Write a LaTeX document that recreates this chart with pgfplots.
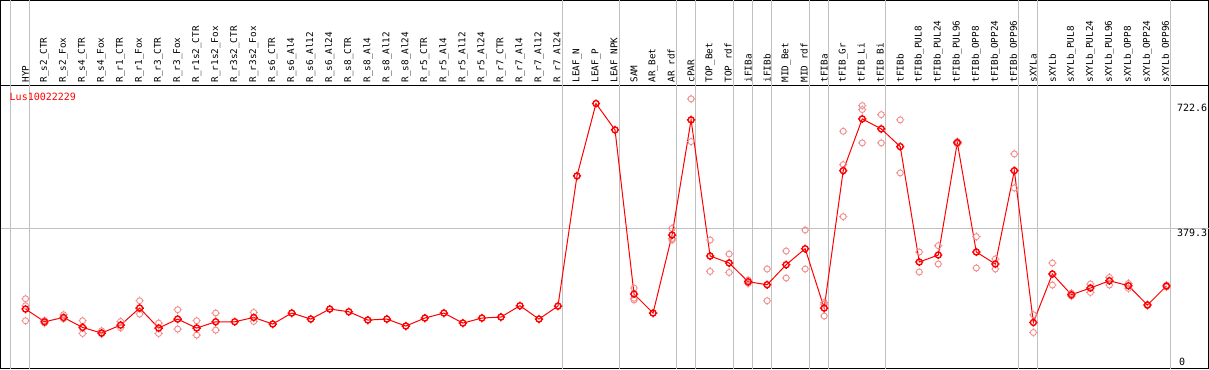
\documentclass[border=0pt]{standalone}
\usepackage{pgfplots}
\pgfplotsset{compat=1.18}
\usepackage{pgfplotstable}
\usepackage{fontspec}
\newfontfamily\lab{DejaVu Sans Mono}
\definecolor{mainred}{RGB}{255,0,0}
\definecolor{repred}{RGB}{240,140,140}
\definecolor{sepgray}{RGB}{192,192,192}
\pgfdeclareplotmark{tc}{%
  \pgfpathcircle{\pgfpointorigin}{\pgfplotmarksize}%
  \pgfpathmoveto{\pgfqpoint{\pgfplotmarksize}{0pt}}\pgfpathlineto{\pgfqpoint{1.4\pgfplotmarksize}{0pt}}%
  \pgfpathmoveto{\pgfqpoint{-\pgfplotmarksize}{0pt}}\pgfpathlineto{\pgfqpoint{-1.4\pgfplotmarksize}{0pt}}%
  \pgfpathmoveto{\pgfqpoint{0pt}{\pgfplotmarksize}}\pgfpathlineto{\pgfqpoint{0pt}{1.4\pgfplotmarksize}}%
  \pgfpathmoveto{\pgfqpoint{0pt}{-\pgfplotmarksize}}\pgfpathlineto{\pgfqpoint{0pt}{-1.4\pgfplotmarksize}}%
  \pgfusepathqstroke}
\pgfplotstableread{
x y
0 158.5
1 123.6
2 135.4
3 108.0
4 92.6
5 114.5
6 161.2
7 106.3
8 131.0
9 106.3
10 123.6
11 123.6
12 135.4
13 117.3
14 147.5
15 131.0
16 158.5
17 151.1
18 128.3
19 131.0
20 111.8
21 133.8
22 147.5
23 120.0
24 133.8
25 136.5
26 167.6
27 131.0
28 166.7
29 523.9
30 722.6
31 650.2
32 199.7
33 147.5
34 361.8
35 677.7
36 304.1
37 284.9
38 233.5
39 225.3
40 280.2
41 324.1
42 161.2
43 538.4
44 680.4
45 653.0
46 604.3
47 287.6
48 306.8
49 615.3
50 315.1
51 282.1
52 538.4
53 121.7
54 254.6
55 197.8
56 216.2
57 236.2
58 222.5
59 169.5
60 221.7
}\maintab
\pgfplotstableread{
x y
0 186.8
0 167.6
0 126.4
1 120.0
1 127.0
2 142.8
2 131.9
3 126.4
3 91.5
4 98.9
4 90.7
5 124.4
5 107.1
6 181.3
6 144.8
7 120.0
7 91.5
8 156.6
8 103.6
9 126.4
9 87.1
10 147.5
10 100.8
12 149.2
12 124.4
32 216.2
32 183.2
32 188.0
34 379.9
34 348.0
34 352.0
35 735.4
35 618.0
36 348.0
36 261.8
37 309.6
37 259.0
38 228.8
38 238.0
39 268.4
39 181.3
40 317.8
40 243.7
41 375.5
41 268.4
42 176.6
42 139.3
42 172.0
43 646.4
43 554.9
43 412.1
44 717.0
44 706.0
44 614.5
45 692.2
45 614.5
46 677.7
46 532.1
47 315.1
47 260.1
48 332.4
48 282.1
49 618.0
49 612.0
50 357.1
50 271.1
51 295.9
51 268.4
52 584.3
52 490.9
53 142.8
53 94.2
54 284.9
54 224.4
55 202.0
55 194.0
56 227.2
56 204.1
57 245.3
57 224.4
58 228.8
58 215.1
59 171.0
59 168.0
60 224.0
60 219.0
}\reptab
\begin{document}
\begin{tikzpicture}
\begin{axis}[
  scale only axis,
  width=1207pt, height=283pt,
  xmin=-1.316, xmax=62.21,
  ymin=-5.5, ymax=771.9,
  axis line style={black, line width=1pt},
  clip=false,
  xtick={0,...,60},
  xticklabel pos=right,
  xticklabels={HYP,R\_s2\_CTR,R\_s2\_Fox,R\_s4\_CTR,R\_s4\_Fox,R\_r1\_CTR,R\_r1\_Fox,R\_r3\_CTR,R\_r3\_Fox,R\_r1s2\_CTR,R\_r1s2\_Fox,R\_r3s2\_CTR,R\_r3s2\_Fox,R\_s6\_CTR,R\_s6\_Al4,R\_s6\_Al12,R\_s6\_Al24,R\_s8\_CTR,R\_s8\_Al4,R\_s8\_Al12,R\_s8\_Al24,R\_r5\_CTR,R\_r5\_Al4,R\_r5\_Al12,R\_r5\_Al24,R\_r7\_CTR,R\_r7\_Al4,R\_r7\_Al12,R\_r7\_Al24,LEAF\_N,LEAF\_P,LEAF\_NPK,SAM,AR\_Bet,AR\_rdf,cPAR,TOP\_Bet,TOP\_rdf,iFIBa,iFIBb,MID\_Bet,MID\_rdf,tFIBa,tFIB\_Gr,tFIB\_Li,tFIB\_Bi,tFIBb,tFIBb\_PUL8,tFIBb\_PUL24,tFIBb\_PUL96,tFIBb\_OPP8,tFIBb\_OPP24,tFIBb\_OPP96,sXYLa,sXYLb,sXYLb\_PUL8,sXYLb\_PUL24,sXYLb\_PUL96,sXYLb\_OPP8,sXYLb\_OPP24,sXYLb\_OPP96},
  xticklabel style={rotate=90, anchor=west, inner sep=0pt, font=\lab\fontsize{9.3pt}{10pt}\selectfont, xshift=3pt},
  major tick length=0pt,
  ytick=\empty,
]
% header frame
\draw[black, line width=1pt] (rel axis cs:0,1) -- ([yshift=85pt]rel axis cs:0,1) -- ([yshift=85pt]rel axis cs:1,1) -- (rel axis cs:1,1);
% horizontal grid line
\draw[sepgray, line width=1pt] (axis cs:-1.316,379.3) -- (axis cs:62.21,379.3);
% separators
\pgfplotsinvokeforeach{-0.77,0.23,28.23,31.23,34.23,35.23,37.23,38.23,39.23,41.23,42.23,45.23,52.23,53.23,60.23}{
  \draw[sepgray, line width=1pt] (axis cs:#1,-5.5) -- (axis cs:#1,771.9) -- ++(0pt,85pt);
}
\addplot[only marks, mark=tc, mark size=3pt, repred, line width=0.9pt] table[x=x,y=y] {\reptab};
\addplot[mainred, line width=1pt, mark=tc, mark size=3pt, mark options={line width=1.4pt}] table[x=x,y=y] {\maintab};
\node[anchor=north west, inner sep=0pt, text=mainred, font=\lab\fontsize{10pt}{12pt}\selectfont] at ([xshift=9pt,yshift=-7pt]rel axis cs:0,1) {Lus10022229};
\node[anchor=north west, inner sep=0pt, font=\lab\fontsize{10pt}{12pt}\selectfont] at (axis cs:60.55,722.6) {722.6};
\node[anchor=north west, inner sep=0pt, font=\lab\fontsize{10pt}{12pt}\selectfont] at (axis cs:60.55,379.3) {379.3};
\node[anchor=south west, inner sep=0pt, font=\lab\fontsize{10pt}{12pt}\selectfont] at (axis cs:60.65,2) {0};
\end{axis}
\end{tikzpicture}
\end{document}
